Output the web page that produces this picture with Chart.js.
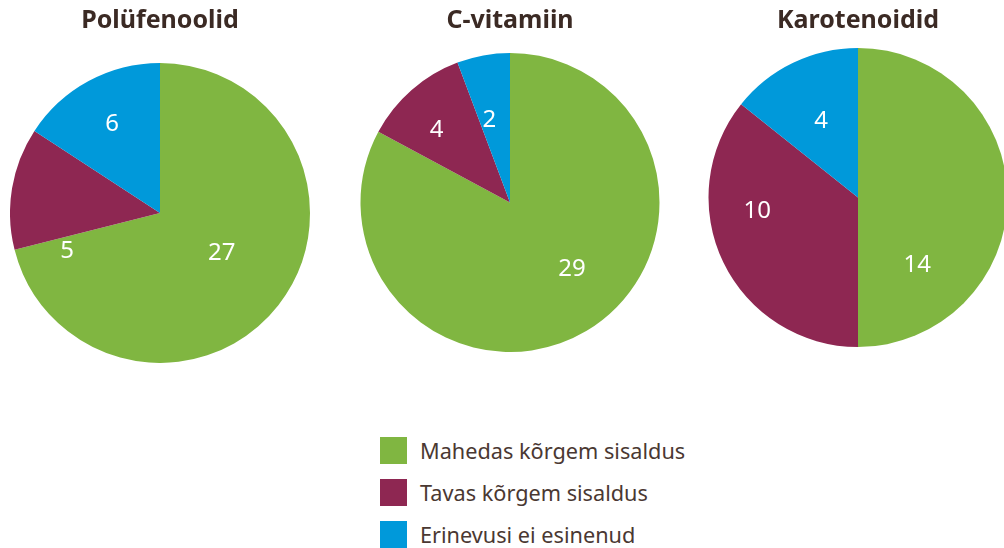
<!DOCTYPE html>
<html>
<head>
<meta charset="utf-8">
<script src="https://cdn.jsdelivr.net/npm/chart.js@4/dist/chart.umd.min.js"></script>
<style>
  html, body { margin: 0; padding: 0; background: #fff; overflow: hidden; }
  body { width: 1004px; height: 548px; position: relative; font-family: "Noto Sans", sans-serif; }
  .pie { position: absolute; top: 0; width: 300px; }
  .legend { position: absolute; left: 380px; top: 437px; color: #4a3832; font-size: 21.7px; }
  .legend div { height: 42px; display: flex; align-items: flex-start; }
  .legend span.box { width: 27px; height: 27px; margin-right: 13px; flex: none; }
  .legend span.txt { line-height: 27px; margin-top: 0px; }
</style>
</head>
<body>
<div class="pie" id="p0" style="left:10px;height:363px"><canvas id="c0"></canvas></div>
<div class="pie" id="p1" style="left:360px;height:352px"><canvas id="c1"></canvas></div>
<div class="pie" id="p2" style="left:708px;height:347px"><canvas id="c2"></canvas></div>
<div class="legend" id="legend"></div>

<script>
// ====== DATA ======
const categories = ["Mahedas kõrgem sisaldus", "Tavas kõrgem sisaldus", "Erinevusi ei esinenud"];
const titles = ["Polüfenoolid", "C-vitamiin", "Karotenoidid"];
const polyphenols = [27, 5, 6];
const vitaminC = [29, 4, 2];
const carotenoids = [14, 10, 4];

const colors = ["#80b641", "#8e2752", "#0099da"];
const series = [polyphenols, vitaminC, carotenoids];

// where each value label sits: fraction along the slice angle, fraction of radius
const labelAt = [[0.48, -0.17, 0.5], [0.46, 0.4, 0.32], [0.77, 0.64, 0.5]];
const labelR = [[0.49, 0.67, 0.67], [0.61, 0.69, 0.57], [0.6, 0.68, 0.57]];
const titleGap = [27, 17, 12];

const valueLabels = {
  id: "valueLabels",
  afterDatasetsDraw(chart, args, opts) {
    const ctx = chart.ctx;
    const meta = chart.getDatasetMeta(0);
    ctx.save();
    ctx.fillStyle = "#fff";
    ctx.font = "24px 'Noto Sans'";
    ctx.textAlign = "center";
    ctx.textBaseline = "middle";
    meta.data.forEach((arc, i) => {
      const p = arc.getProps(["x", "y", "startAngle", "endAngle", "outerRadius"], true);
      const a = p.startAngle + (p.endAngle - p.startAngle) * opts.at[i];
      const r = p.outerRadius * opts.r[i];
      ctx.fillText(chart.data.datasets[0].data[i], p.x + Math.cos(a) * r, p.y + Math.sin(a) * r);
    });
    ctx.restore();
  }
};

series.forEach((values, k) => {
  new Chart(document.getElementById("c" + k), {
    type: "pie",
    data: {
      labels: categories,
      datasets: [{ data: values, backgroundColor: colors, borderWidth: 0 }]
    },
    options: {
      responsive: true,
      maintainAspectRatio: false,
      animation: false,
      layout: { padding: 0 },
      events: [],
      plugins: {
        legend: { display: false },
        tooltip: { enabled: false },
        title: {
          display: true,
          text: titles[k],
          color: "#3b2a24",
          font: { family: "'Noto Sans'", size: 25, weight: "bold" },
          padding: { top: 6, bottom: titleGap[k] }
        },
        valueLabels: { at: labelAt[k], r: labelR[k] }
      }
    },
    plugins: [valueLabels]
  });
});

// legend
const legend = document.getElementById("legend");
categories.forEach((name, i) => {
  const row = document.createElement("div");
  row.innerHTML = '<span class="box" style="background:' + colors[i] + '"></span><span class="txt">' + name + "</span>";
  legend.appendChild(row);
});
</script>
</body>
</html>
